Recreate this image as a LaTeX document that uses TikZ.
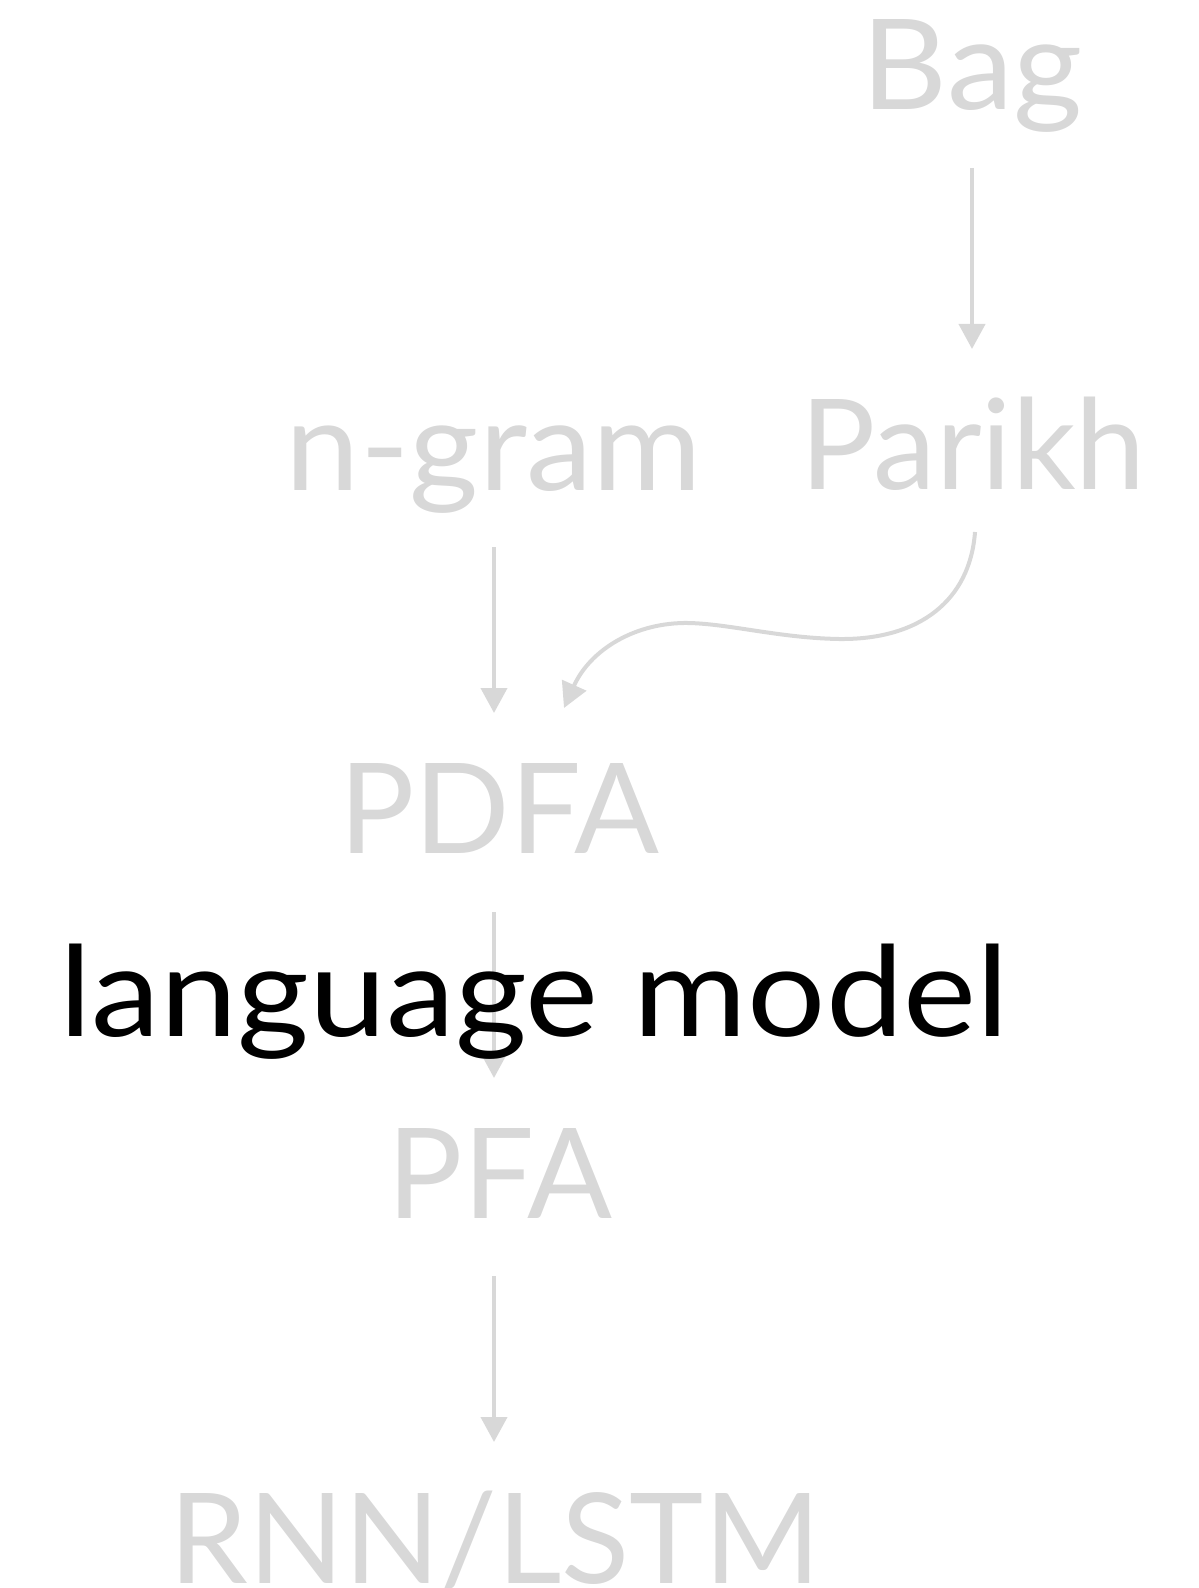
\documentclass[tikz,border=0pt]{standalone}
\usepackage{fontspec}
\setmainfont{Lato}
\newfontfamily\widefont[FakeStretch=1.1]{Lato}
\newfontfamily\semiwidefont[FakeStretch=1.06]{Lato}
\usetikzlibrary{arrows.meta}
\pgfdeclarelayer{bg}
\pgfsetlayers{bg,main}
\definecolor{lightgray}{HTML}{D8D8D8}
\tikzset{
  lbl/.style={inner sep=0pt, anchor=base, text=lightgray, font=\fontsize{62.8pt}{70pt}\selectfont},
  widelbl/.style={lbl, font=\widefont\fontsize{62.8pt}{70pt}\selectfont},
  semilbl/.style={lbl, font=\semiwidefont\fontsize{62.8pt}{70pt}\selectfont},
  mainlbl/.style={widelbl, text=black},
  arr/.style={draw=lightgray, line width=2pt, -{Triangle[length=12.5pt,width=13pt]}}
}
\begin{document}
\begin{tikzpicture}[x=0.5pt,y=-0.5pt]
\useasboundingbox (0,0) rectangle (1198,1588);
\node[semilbl] (bag) at (972,110) {Bag};
\node[lbl] (parikh) at (973,489) {Parikh};
\node[semilbl] (ngram) at (494,490) {n-gram};
\node[lbl] (pdfa) at (499,853) {PDFA};
\node[mainlbl] (lm) at (534,1036) {language model};
\node[lbl] (pfa) at (500,1218) {PFA};
\node[lbl] (rnn) at (495,1583) {RNN/LSTM};
\begin{pgfonlayer}{bg}
\draw[arr, shorten <=29pt, shorten >=70pt] (bag.base) -- (bag.base |- parikh.base);
\draw[arr, shorten <=28.5pt, shorten >=70pt] (ngram.base) -- (ngram.base |- pdfa.base);
\draw[arr, shorten <=29.5pt, shorten >=70pt] (pdfa.base -| ngram.base) -- (pfa.base -| ngram.base);
\draw[arr, shorten <=29pt, shorten >=70.5pt] (pfa.base -| ngram.base) -- (rnn.base -| ngram.base);
\draw[arr] ([shift={(2,43)}]parikh.base) .. controls (970,600) and (920,640) .. (839,639)
  .. controls (780,638) and (730,624) .. (689,623)
  .. controls (635,622) and (590,650) .. ([shift={(65,-145)}]pdfa.base);
\end{pgfonlayer}
\end{tikzpicture}
\end{document}
